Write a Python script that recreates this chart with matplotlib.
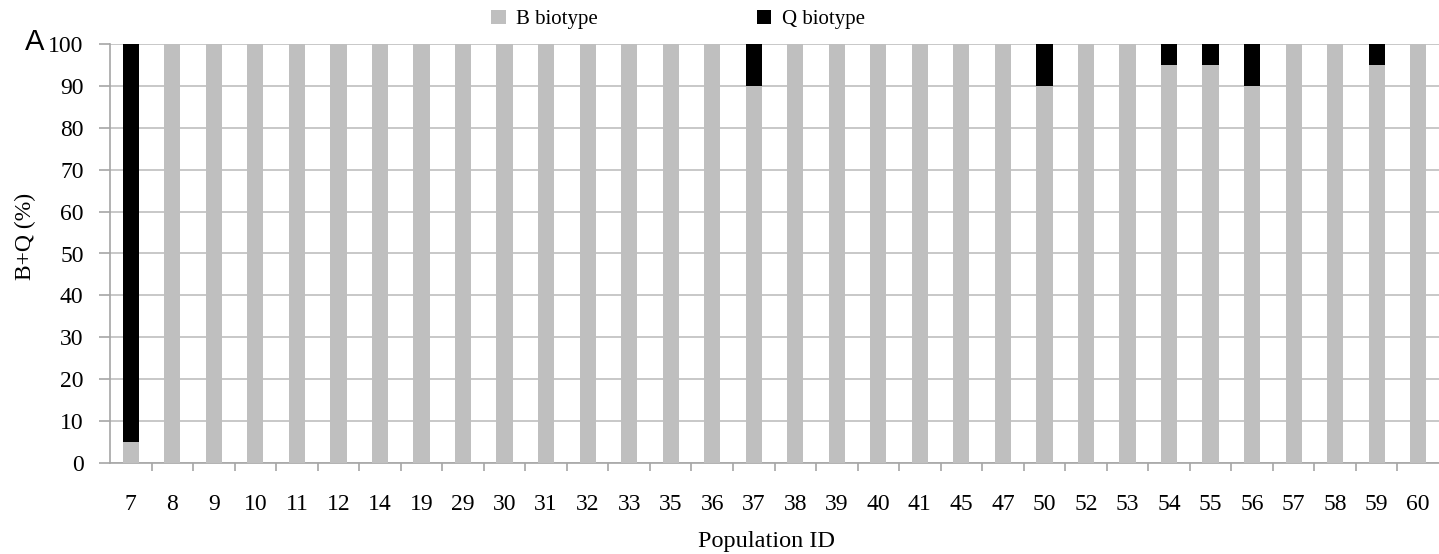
import numpy as np
from matplotlib import pyplot as plt

POPULATIONS = ["7", "8", "9", "10", "11", "12", "14", "19", "29", "30", "31", "32",
               "33", "35", "36", "37", "38", "39", "40", "41", "45", "47", "50", "52",
               "53", "54", "55", "56", "57", "58", "59", "60"]
B_BIOTYPE = [5, 100, 100, 100, 100, 100, 100, 100, 100, 100, 100, 100,
             100, 100, 100, 90, 100, 100, 100, 100, 100, 100, 90, 100,
             100, 95, 95, 90, 100, 100, 95, 100]
Q_BIOTYPE = [95, 0, 0, 0, 0, 0, 0, 0, 0, 0, 0, 0,
             0, 0, 0, 10, 0, 0, 0, 0, 0, 0, 10, 0,
             0, 5, 5, 10, 0, 0, 5, 0]

GRAY = "#BFBFBF"
AXIS = "#A6A6A6"


def main():
    plt.rcParams["font.family"] = ["Liberation Serif", "DejaVu Serif"]
    fig = plt.figure(figsize=(14.39, 5.54), dpi=100)
    ax = fig.add_axes([110 / 1439, 1 - 463 / 554, 1 - 110 / 1439, (463 - 44) / 554])

    x = np.arange(len(POPULATIONS))
    b = ax.bar(x, B_BIOTYPE, width=0.39, color=GRAY, label="B biotype", zorder=3)
    q = ax.bar(x, Q_BIOTYPE, width=0.39, bottom=B_BIOTYPE, color="black",
               label="Q biotype", zorder=3)

    ax.set_xlim(-0.5, len(POPULATIONS) - 0.5)
    ax.set_ylim(0, 100)
    ax.set_yticks(range(0, 101, 10))
    ax.set_xticks(x)
    ax.set_xticklabels(POPULATIONS)
    ax.set_xticks(x[:-1] + 0.5, minor=True)
    ax.tick_params(axis="x", which="major", length=0, pad=22, labelsize=17)
    ax.tick_params(axis="x", which="minor", length=6, color=AXIS, width=1.2)
    ax.tick_params(axis="y", length=8, color=AXIS, width=1.2, pad=11, labelsize=17)

    ax.grid(axis="y", color=GRAY, linewidth=1.2, zorder=0)
    for s in ["top", "right"]:
        ax.spines[s].set_visible(False)
    ax.spines["left"].set_color(AXIS)
    ax.spines["bottom"].set_color(AXIS)
    ax.spines["left"].set_linewidth(1.2)
    ax.spines["bottom"].set_linewidth(1.2)

    ax.set_ylabel("B+Q (%)", fontsize=17)
    ax.yaxis.set_label_coords(-0.056, 0.54)
    ax.set_xlabel("Population ID", fontsize=17.5)
    ax.xaxis.set_label_coords(0.494, -0.162)

    fig.legend(handles=[b, q], loc="upper center", bbox_to_anchor=(678 / 1439, 1.016),
               ncol=2, frameon=False, fontsize=15, handlelength=0.7, handleheight=0.7,
               handletextpad=0.5, columnspacing=7.6)
    fig.text(25 / 1439, 1 - 42 / 554, "A", family="Liberation Sans", fontsize=21,
             ha="left", va="center")

    fig.savefig("out.png", dpi=100)


if __name__ == '__main__':
    main()
